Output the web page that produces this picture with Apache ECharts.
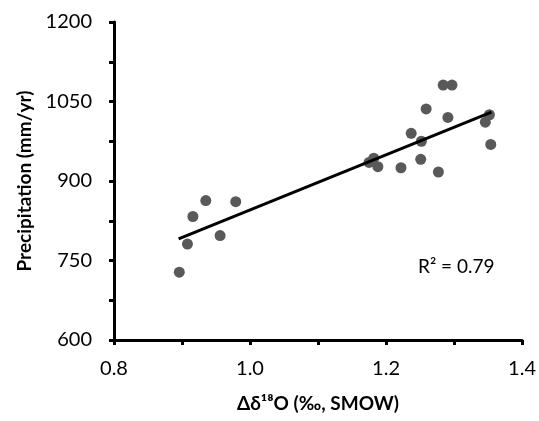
<!DOCTYPE html>
<html>
<head>
<meta charset="utf-8">
<script src="https://cdn.jsdelivr.net/npm/echarts@6/dist/echarts.min.js"></script>
<style>
html,body{margin:0;padding:0;background:#fff;}
#chart{width:539px;height:421px;}
</style>
</head>
<body>
<div id="chart"></div>
<script>
// Data
const deltaO18 = [0.896,0.908,0.916,0.935,0.956,0.979,1.175,1.182,1.188,1.222,1.237,1.251,1.252,1.259,1.277,1.284,1.291,1.297,1.346,1.352,1.354];
const precip   = [728,781,833,863,797,861,935,943,927,925,990,941,975,1036,917,1081,1020,1081,1011,1025,969];
const trendX = [0.895, 1.355];
const trendY = [791, 1030];
const r2Label = 'R\u00B2 = 0.79';
const xTicks = [0.8, 1.0, 1.2, 1.4];
const yTicks = [600, 750, 900, 1050, 1200];

const FONT = 'Lato, "Open Sans", sans-serif';
const chart = echarts.init(document.getElementById('chart'), null, {renderer:'canvas'});
chart.setOption({
  animation:false,
  backgroundColor:'#fff',
  grid:{left:114, right:12, top:22, bottom:81, containLabel:false},
  xAxis:{
    type:'value', min:xTicks[0], max:xTicks[xTicks.length-1], interval:0.2,
    name:'\u0394\u03B4\u00B9\u2078O (\u2030, SMOW)', nameLocation:'middle', nameGap:54,
    nameTextStyle:{fontFamily:FONT, fontSize:19, fontWeight:'bold', color:'#000'},
    axisLine:{lineStyle:{color:'#000', width:3}},
    axisTick:{show:true, inside:false, length:5, lineStyle:{color:'#000', width:3}},
    minorTick:{show:true, splitNumber:2, length:5, lineStyle:{color:'#000', width:3}},
    splitLine:{show:false},
    axisLabel:{fontFamily:FONT, fontSize:20, color:'#000', margin:19, formatter:v=>v.toFixed(1)}
  },
  yAxis:{
    type:'value', min:yTicks[0], max:yTicks[yTicks.length-1], interval:150,
    name:'Precipitation (mm/yr)', nameLocation:'middle', nameGap:78, nameRotate:90,
    nameTextStyle:{fontFamily:FONT, fontSize:19, fontWeight:'bold', color:'#000'},
    axisLine:{show:true, lineStyle:{color:'#000', width:3}},
    axisTick:{show:true, inside:false, length:5, lineStyle:{color:'#000', width:3}},
    minorTick:{show:true, splitNumber:2, length:5, lineStyle:{color:'#000', width:3}},
    splitLine:{show:false},
    axisLabel:{fontFamily:FONT, fontSize:20, color:'#000', margin:22, formatter:v=>String(v)}
  },
  series:[
    {type:'scatter', data:deltaO18.map((x,i)=>[x,precip[i]]), symbolSize:11,
     itemStyle:{color:'#595959', opacity:1}, z:2},
    {type:'line', data:trendX.map((x,i)=>[x,trendY[i]]), symbol:'none',
     lineStyle:{color:'#000', width:3}, z:3}
  ],
  graphic:[{type:'text', left:418, top:257, style:{text:r2Label, fontFamily:FONT, fontSize:19, fill:'#000'}}]
});
</script>
</body>
</html>
